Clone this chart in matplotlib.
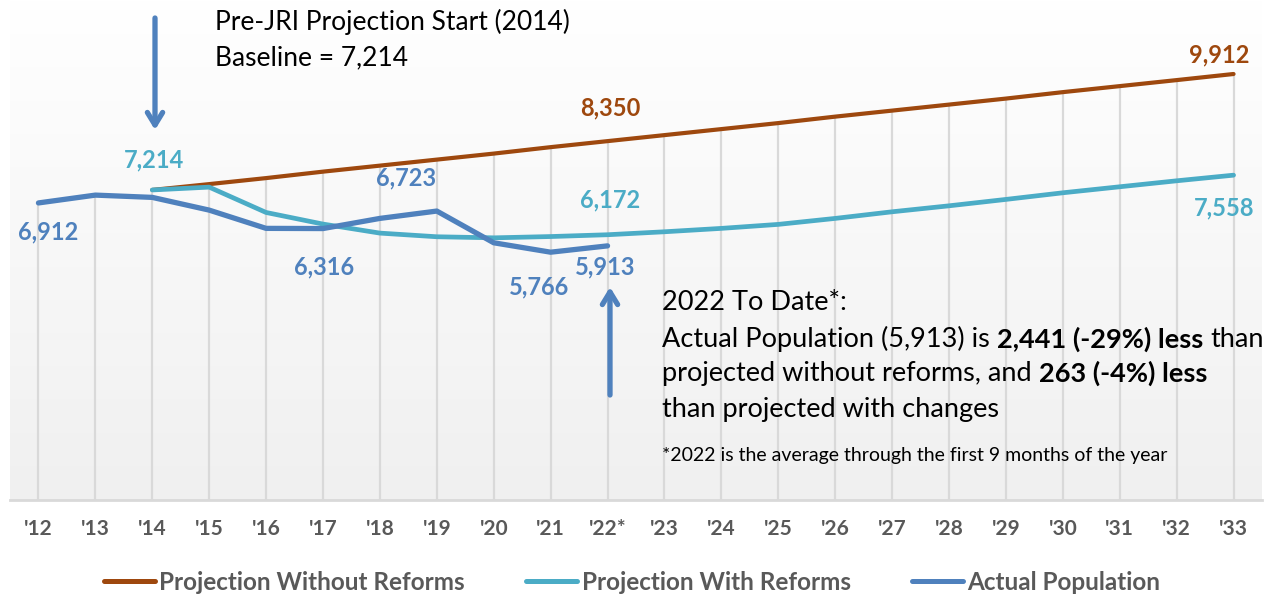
import numpy as np
import matplotlib
matplotlib.use("Agg")
import matplotlib.pyplot as plt
from matplotlib.lines import Line2D

# ---------------- data ----------------
years = ["'12", "'13", "'14", "'15", "'16", "'17", "'18", "'19", "'20", "'21", "'22*",
         "'23", "'24", "'25", "'26", "'27", "'28", "'29", "'30", "'31", "'32", "'33"]
# Projection without reforms (starts 2014)
proj_without = [np.nan, np.nan, 7214, 7350, 7490, 7640, 7780, 7920, 8060, 8210, 8350,
                8490, 8630, 8770, 8920, 9060, 9200, 9340, 9490, 9630, 9770, 9912]
# Projection with reforms (starts 2014)
proj_with = [np.nan, np.nan, 7214, 7280, 6690, 6420, 6210, 6125, 6100, 6130, 6172,
             6241, 6320, 6413, 6552, 6706, 6845, 6994, 7148, 7288, 7427, 7558]
# Actual population (through 2022)
actual = [6912, 7094, 7041, 6745, 6320, 6316, 6552, 6723, 5985, 5766, 5913,
          np.nan, np.nan, np.nan, np.nan, np.nan, np.nan, np.nan, np.nan, np.nan, np.nan, np.nan]

series_names = ["Projection Without Reforms", "Projection With Reforms", "Actual Population"]

C_ORANGE = "#9E480E"
C_TEAL = "#4BACC6"
C_BLUE = "#4F81BD"
C_GRAY = "#595959"
C_GRID = "#D9D9D9"

FONT = ["Lato", "DejaVu Sans"]
plt.rcParams["font.family"] = FONT

W, H = 1264, 597
fig = plt.figure(figsize=(W / 100, H / 100), dpi=100)
fig.patch.set_facecolor("white")

ax = fig.add_axes([10 / W, 1 - 500 / H, 1252 / W, 500 / H])
x = np.arange(len(years))
ymax = 9912 * 500 / 426
ax.set_xlim(-0.5, len(years) - 0.5)
ax.set_ylim(0, ymax)

# gradient background
grad = np.linspace(0, 1, 256).reshape(-1, 1)
top = np.array([1.0, 1.0, 1.0])
bot = np.array([0xF0, 0xF0, 0xF0]) / 255
img = top[None, None, :] * (1 - grad[..., None]) + bot[None, None, :] * grad[..., None]
ax.imshow(img, extent=[0, 1, 0, 1], transform=ax.transAxes, aspect="auto", zorder=0)

for s in ax.spines.values():
    s.set_visible(False)
ax.axhline(0, color=C_GRID, lw=2, zorder=1, clip_on=False)

# drop lines
stack = np.vstack([proj_without, proj_with, actual])
top_vals = np.nanmax(stack, axis=0)
ax.vlines(x, 0, top_vals, color=C_GRID, lw=1.6, zorder=1)

ax.plot(x, proj_without, color=C_ORANGE, lw=3.0, zorder=3, solid_capstyle="round",
        label=series_names[0])
ax.plot(x, proj_with, color=C_TEAL, lw=3.4, zorder=3, solid_capstyle="round",
        label=series_names[1])
ax.plot(x, actual, color=C_BLUE, lw=3.8, zorder=4, solid_capstyle="round",
        label=series_names[2])

ax.set_yticks([])
ax.set_xticks(x)
ax.set_xticklabels(years, fontsize=15, fontweight="bold", color=C_GRAY, family=FONT)
ax.tick_params(axis="x", length=0, pad=14)

# data labels: (series values, index, dx px, dy px up, color)
labels = [
    (actual, 0, 10, -29, C_BLUE),
    (proj_with, 2, 2, 30, C_TEAL),
    (actual, 5, 1, -38, C_BLUE),
    (actual, 7, -31, 33, C_BLUE),
    (proj_without, 10, 3, 33, C_ORANGE),
    (proj_with, 10, 3, 35, C_TEAL),
    (actual, 9, -12, -35, C_BLUE),
    (actual, 10, -2, -21, C_BLUE),
    (proj_without, 21, -14, 19, C_ORANGE),
    (proj_with, 21, -9, -33, C_TEAL),
]
for vals, i, dx, dy, col in labels:
    ax.annotate(f"{vals[i]:,.0f}", xy=(i, vals[i]), xytext=(dx * 0.72, dy * 0.72),
                textcoords="offset points", ha="center", va="center",
                fontsize=17, fontweight="bold", color=col, zorder=5)

# legend
leg = fig.legend(handles=[Line2D([], [], color=C_ORANGE, lw=3.6, solid_capstyle="round"),
                          Line2D([], [], color=C_TEAL, lw=3.6, solid_capstyle="round"),
                          Line2D([], [], color=C_BLUE, lw=3.6, solid_capstyle="round")],
                 labels=series_names, loc="center", bbox_to_anchor=(632 / W, 1 - 582 / H),
                 ncol=3, frameon=False, handlelength=2.1, handletextpad=0.2,
                 columnspacing=2.5, prop={"family": FONT, "weight": "bold", "size": 17.5})
for t in leg.get_texts():
    t.set_color(C_GRAY)

# annotations (figure pixels)
def fpx(px, py):
    return (px, H - py)

fig.text(215 / W, 1 - 22 / H, "Pre-JRI Projection Start (2014)", fontsize=19,
         va="center", ha="left", color="black")
fig.text(215 / W, 1 - 58 / H, "Baseline = 7,214", fontsize=19,
         va="center", ha="left", color="black")

arrow_kw = dict(arrowstyle="->,head_length=0.9,head_width=0.55", color=C_BLUE, lw=3.8,
                capstyle="round", joinstyle="round", shrinkA=0, shrinkB=0)
ax.annotate("", xy=fpx(155, 130), xytext=fpx(155, 18), xycoords="figure pixels",
            textcoords="figure pixels", arrowprops=arrow_kw, annotation_clip=False)
ax.annotate("", xy=fpx(610, 287), xytext=fpx(610, 395), xycoords="figure pixels",
            textcoords="figure pixels", arrowprops=arrow_kw, annotation_clip=False)

TS = 19.5
SP = 5.0
fig.text(662 / W, 1 - 302 / H, "2022 To Date*:", fontsize=TS, va="center", ha="left")


def chain(y, parts):
    prev = fig.text(662 / W, 1 - y / H, parts[0][0], fontsize=TS, va="center",
                    ha="left", fontweight=parts[0][1])
    for txt, wt in parts[1:]:
        prev = ax.annotate(txt, xy=(1, 0), xycoords=prev, xytext=(SP, 0),
                           textcoords="offset points", fontsize=TS, fontweight=wt,
                           va="bottom", ha="left", annotation_clip=False)


chain(339, [("Actual Population (5,913) is", "normal"), ("2,441 (-29%) less", "bold"),
            ("than", "normal")])
chain(374, [("projected without reforms, and", "normal"), ("263 (-4%) less", "bold")])
chain(410, [("than projected with changes", "normal")])
fig.text(662 / W, 1 - 455 / H, "*2022 is the average through the first 9 months of the year",
         fontsize=14, va="center", ha="left")

fig.savefig("out.png", dpi=100)
